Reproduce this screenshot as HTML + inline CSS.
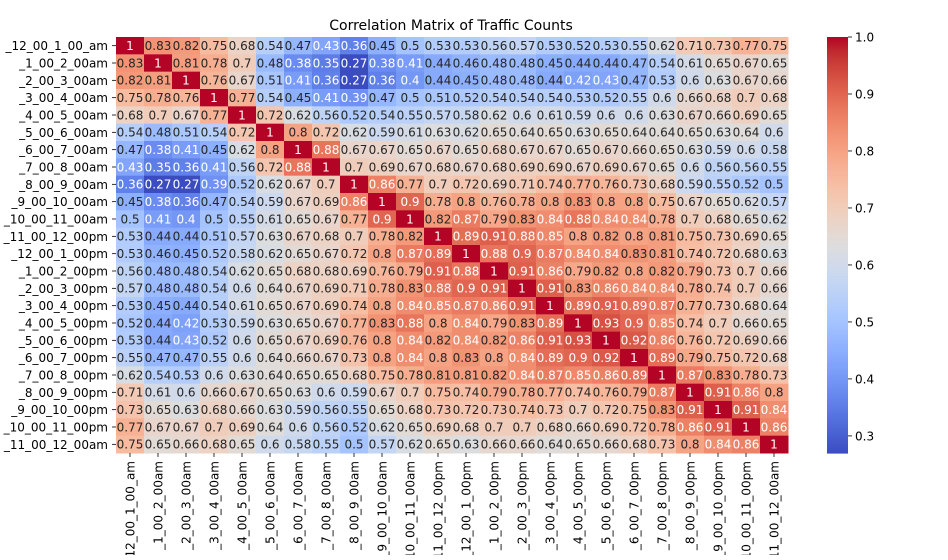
<!DOCTYPE html>
<html><head><meta charset="utf-8"><style>
body{margin:0;background:#fff;}
svg text{font-family:"DejaVu Sans","Liberation Sans",sans-serif;}
</style></head><body>
<svg id="chart" width="948" height="555" xmlns="http://www.w3.org/2000/svg">
<text x="451" y="30" font-size="14" text-anchor="middle" fill="#000">Correlation Matrix of Traffic Counts</text>
<g id="cells"></g>
<g id="ylab"></g>
<g id="xlab"></g>
<g id="cbar"></g>
</svg>
<script>
const labels=["_12_00_1_00_am","_1_00_2_00am","_2_00_3_00am","_3_00_4_00am","_4_00_5_00am","_5_00_6_00am","_6_00_7_00am","_7_00_8_00am","_8_00_9_00am","_9_00_10_00am","_10_00_11_00am","_11_00_12_00pm","_12_00_1_00pm","_1_00_2_00pm","_2_00_3_00pm","_3_00_4_00pm","_4_00_5_00pm","_5_00_6_00pm","_6_00_7_00pm","_7_00_8_00pm","_8_00_9_00pm","_9_00_10_00pm","_10_00_11_00pm","_11_00_12_00am"];
const matrix=[
[1,.83,.82,.75,.68,.54,.47,.43,.36,.45,.5,.53,.53,.56,.57,.53,.52,.53,.55,.62,.71,.73,.77,.75],
[.83,1,.81,.78,.7,.48,.38,.35,.27,.38,.41,.44,.46,.48,.48,.45,.44,.44,.47,.54,.61,.65,.67,.65],
[.82,.81,1,.76,.67,.51,.41,.36,.27,.36,.4,.44,.45,.48,.48,.44,.42,.43,.47,.53,.6,.63,.67,.66],
[.75,.78,.76,1,.77,.54,.45,.41,.39,.47,.5,.51,.52,.54,.54,.54,.53,.52,.55,.6,.66,.68,.7,.68],
[.68,.7,.67,.77,1,.72,.62,.56,.52,.54,.55,.57,.58,.62,.6,.61,.59,.6,.6,.63,.67,.66,.69,.65],
[.54,.48,.51,.54,.72,1,.8,.72,.62,.59,.61,.63,.62,.65,.64,.65,.63,.65,.64,.64,.65,.63,.64,.6],
[.47,.38,.41,.45,.62,.8,1,.88,.67,.67,.65,.67,.65,.68,.67,.67,.65,.67,.66,.65,.63,.59,.6,.58],
[.43,.35,.36,.41,.56,.72,.88,1,.7,.69,.67,.68,.67,.68,.69,.69,.67,.69,.67,.65,.6,.56,.56,.55],
[.36,.27,.27,.39,.52,.62,.67,.7,1,.86,.77,.7,.72,.69,.71,.74,.77,.76,.73,.68,.59,.55,.52,.5],
[.45,.38,.36,.47,.54,.59,.67,.69,.86,1,.9,.78,.8,.76,.78,.8,.83,.8,.8,.75,.67,.65,.62,.57],
[.5,.41,.4,.5,.55,.61,.65,.67,.77,.9,1,.82,.87,.79,.83,.84,.88,.84,.84,.78,.7,.68,.65,.62],
[.53,.44,.44,.51,.57,.63,.67,.68,.7,.78,.82,1,.89,.91,.88,.85,.8,.82,.8,.81,.75,.73,.69,.65],
[.53,.46,.45,.52,.58,.62,.65,.67,.72,.8,.87,.89,1,.88,.9,.87,.84,.84,.83,.81,.74,.72,.68,.63],
[.56,.48,.48,.54,.62,.65,.68,.68,.69,.76,.79,.91,.88,1,.91,.86,.79,.82,.8,.82,.79,.73,.7,.66],
[.57,.48,.48,.54,.6,.64,.67,.69,.71,.78,.83,.88,.9,.91,1,.91,.83,.86,.84,.84,.78,.74,.7,.66],
[.53,.45,.44,.54,.61,.65,.67,.69,.74,.8,.84,.85,.87,.86,.91,1,.89,.91,.89,.87,.77,.73,.68,.64],
[.52,.44,.42,.53,.59,.63,.65,.67,.77,.83,.88,.8,.84,.79,.83,.89,1,.93,.9,.85,.74,.7,.66,.65],
[.53,.44,.43,.52,.6,.65,.67,.69,.76,.8,.84,.82,.84,.82,.86,.91,.93,1,.92,.86,.76,.72,.69,.66],
[.55,.47,.47,.55,.6,.64,.66,.67,.73,.8,.84,.8,.83,.8,.84,.89,.9,.92,1,.89,.79,.75,.72,.68],
[.62,.54,.53,.6,.63,.64,.65,.65,.68,.75,.78,.81,.81,.82,.84,.87,.85,.86,.89,1,.87,.83,.78,.73],
[.71,.61,.6,.66,.67,.65,.63,.6,.59,.67,.7,.75,.74,.79,.78,.77,.74,.76,.79,.87,1,.91,.86,.8],
[.73,.65,.63,.68,.66,.63,.59,.56,.55,.65,.68,.73,.72,.73,.74,.73,.7,.72,.75,.83,.91,1,.91,.84],
[.77,.67,.67,.7,.69,.64,.6,.56,.52,.62,.65,.69,.68,.7,.7,.68,.66,.69,.72,.78,.86,.91,1,.86],
[.75,.65,.66,.68,.65,.6,.58,.55,.5,.57,.62,.65,.63,.66,.66,.64,.65,.66,.68,.73,.8,.84,.86,1]];
const cbTicks=[0.3,0.4,0.5,0.6,0.7,0.8,0.9,1.0];
const vmin=0.27, vmax=1.0;
const X0=116,Y0=37,W=672,H=416,CB0=827,CB1=848;
const cw=[[59,76,192],[68,90,204],[77,104,215],[87,117,225],[98,130,234],[108,142,241],[119,154,247],[130,165,251],[141,176,254],[152,185,255],[163,194,255],[174,201,253],[184,208,249],[194,213,244],[204,217,238],[213,219,230],[221,221,221],[229,216,209],[236,211,197],[241,204,185],[245,196,173],[247,187,160],[247,177,148],[247,166,135],[244,154,123],[241,141,111],[236,127,99],[229,112,88],[222,96,77],[213,80,66],[203,62,56],[192,40,47],[180,4,38]];
function cmap(v){let t=Math.max(0,Math.min(1,(v-vmin)/(vmax-vmin)))*(cw.length-1);let i=Math.min(Math.floor(t),cw.length-2),f=t-i;return cw[i].map((c,k)=>Math.round(c+(cw[i+1][k]-c)*f));}
function lum(c){const l=c.map(x=>{x/=255;return x<=0.03928?x/12.92:Math.pow((x+0.055)/1.055,2.4)});return .2126*l[0]+.7152*l[1]+.0722*l[2];}
const NS="http://www.w3.org/2000/svg";
function mk(tag,attrs,parent){const e=document.createElementNS(NS,tag);for(const k in attrs)e.setAttribute(k,attrs[k]);parent.appendChild(e);return e;}
const n=labels.length, xs=i=>X0+i*W/n, ys=j=>Y0+j*H/n, cwid=W/n, chei=H/n;
const cells=document.getElementById('cells'),yl=document.getElementById('ylab'),xl=document.getElementById('xlab'),cb=document.getElementById('cbar');
matrix.forEach((row,j)=>row.forEach((v,i)=>{
 const c=cmap(v);
 const r=mk('rect',{x:xs(i),y:ys(j),width:cwid+0.5,height:chei+0.5,fill:`rgb(${c})`},cells);
 
 
}));
matrix.forEach((row,j)=>row.forEach((v,i)=>{
 const c=cmap(v);
 const t=mk('text',{x:xs(i)+cwid/2,y:ys(j)+chei/2+4.3,'font-size':'12','text-anchor':'middle',fill:lum(c)<0.408?'#fff':'#262626'},cells);
 
 
 t.textContent=String(v);
}));
labels.forEach((l,j)=>{
 const t=mk('text',{x:X0-8,y:ys(j)+chei/2+4.5,'font-size':'12','text-anchor':'end',fill:'#000'},yl);
 
 
 t.textContent=l;
 const k=mk('line',{x1:X0-4,x2:X0,y1:ys(j)+chei/2,y2:ys(j)+chei/2,stroke:'#000','stroke-width':0.8},yl);
 
 
 const cx=xs(j)+cwid/2;
 const t2=mk('text',{x:0,y:0,'font-size':'12','text-anchor':'end',transform:`translate(${cx+4.5},${Y0+H+8}) rotate(-90)`,fill:'#000'},xl);
 
 
 t2.textContent=l;
 const k2=mk('line',{x1:cx,x2:cx,y1:Y0+H,y2:Y0+H+4,stroke:'#000','stroke-width':0.8},xl);
 
 
});
const cy=v=>Y0+H-(v-vmin)/(vmax-vmin)*H;
for(let s=0;s<208;s++){const v0=vmin+(vmax-vmin)*s/208;const c=cmap(v0+(vmax-vmin)/416);
 const r=mk('rect',{x:CB0,y:cy(v0+(vmax-vmin)/208),width:CB1-CB0,height:H/208+0.6,fill:`rgb(${c})`},cb);
 
 }
cbTicks.forEach(v=>{
 const k=mk('line',{x1:CB1,x2:CB1+4,y1:cy(v),y2:cy(v),stroke:'#000','stroke-width':0.8},cb);
 
 
 const t=mk('text',{x:CB1+7,y:cy(v)+4.5,'font-size':'12',fill:'#000'},cb);
 
 
 t.textContent=v.toFixed(1);
});
</script>
</body></html>
